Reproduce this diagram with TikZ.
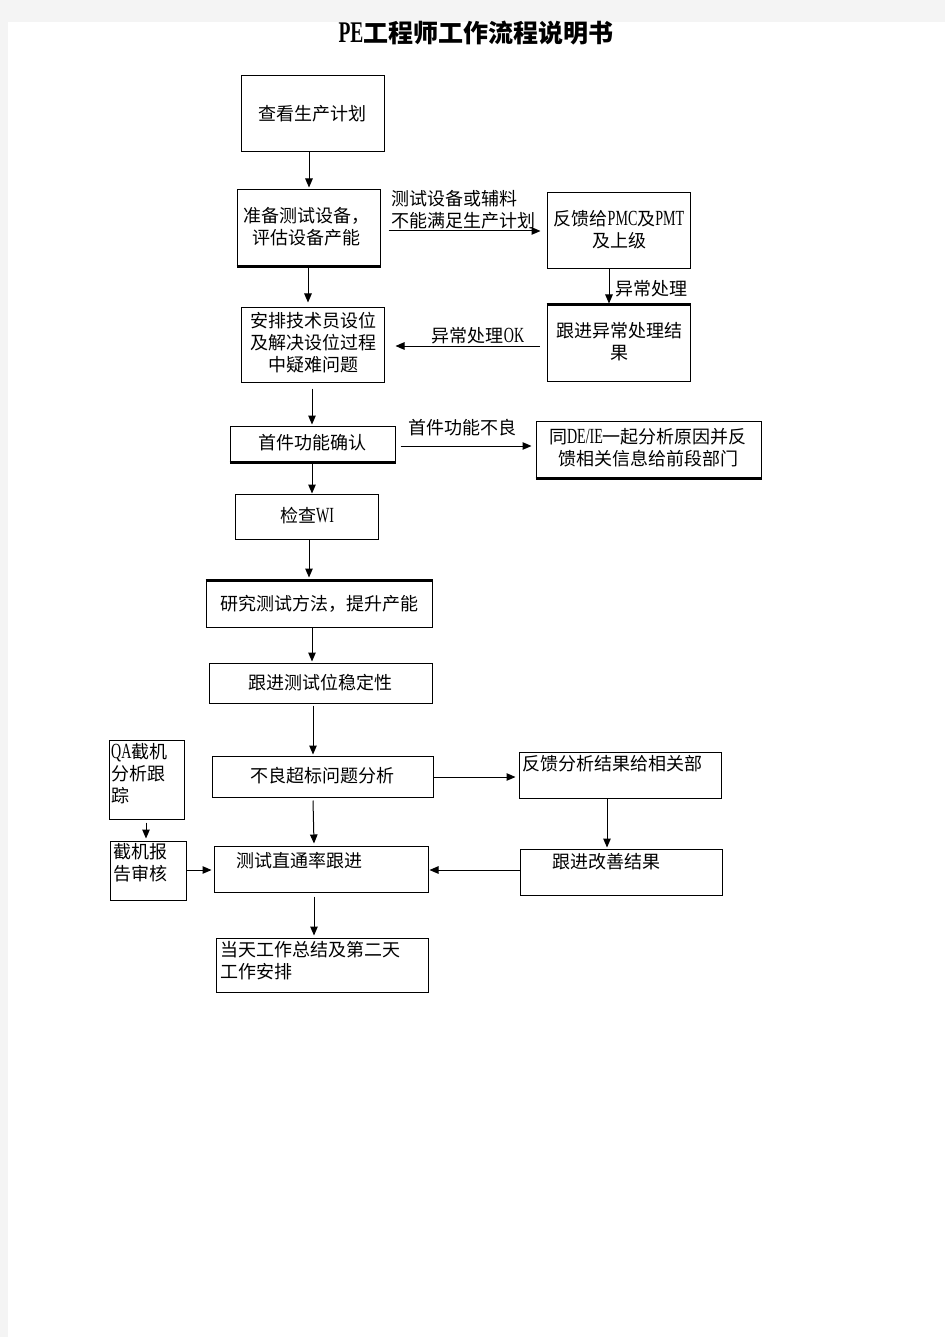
\documentclass[tikz,border=0pt]{standalone}
\usepackage{fontspec}
\setmainfont{Noto Sans CJK SC}
\newfontfamily\lat[FakeStretch=0.65,Scale=1.2]{Liberation Serif}
\usetikzlibrary{arrows.meta,calc}
\definecolor{pagegray}{HTML}{F4F4F4}
\begin{document}
\begin{tikzpicture}[x=1pt,y=-1pt,
  box/.style={draw=black,line width=1pt,inner sep=0pt},
  txt/.style={inner sep=0pt,align=center,font=\fontsize{18}{22}\selectfont},
  ltxt/.style={inner sep=0pt,align=left,anchor=west,font=\fontsize{18}{22}\selectfont},
  arr/.style={draw=black,line width=1pt,-{Triangle[length=9pt,width=7.5pt]}},
  heavy/.style={line width=2.2pt}]
% page background
\fill[pagegray] (0,0) rectangle (945,1337);
\fill[white] (8,22) rectangle (945,1337);
\useasboundingbox (0,0) rectangle (945,1337);
% title
\node[inner sep=0pt,font=\fontsize{25}{28}\selectfont\bfseries] (title) at (476,33) {{\lat PE}工程师工作流程说明书};
% boxes
\node[box,minimum width=143,minimum height=76] (b1) at (312.5,114) {};
\node[box,minimum width=143,minimum height=76] (b2) at (308.5,228) {};
\node[box,minimum width=143,minimum height=76] (b3) at (618.5,231) {};
\node[box,minimum width=143,minimum height=76] (b4) at (618.5,343) {};
\node[box,minimum width=143,minimum height=75] (b5) at (312.5,344.5) {};
\node[box,minimum width=165,minimum height=36] (b6) at (312.5,444) {};
\node[box,minimum width=225,minimum height=57] (b7) at (648.5,449.5) {};
\node[box,minimum width=143,minimum height=45] (b8) at (306.5,516.5) {};
\node[box,minimum width=226,minimum height=46] (b9) at (319,604) {};
\node[box,minimum width=223,minimum height=40] (b10) at (320.5,683) {};
\node[box,minimum width=221,minimum height=41] (b11) at (322.5,776.5) {};
\node[box,minimum width=202,minimum height=46] (b12) at (620,775) {};
\node[box,minimum width=202,minimum height=46] (b13) at (621,872) {};
\node[box,minimum width=214,minimum height=46] (b14) at (321,869) {};
\node[box,minimum width=75,minimum height=79] (bqa) at (146.5,779.5) {};
\node[box,minimum width=76,minimum height=59] (bjr) at (148,870.5) {};
\node[box,minimum width=212,minimum height=54] (b15) at (322,965) {};
% heavier edges
\draw[heavy] (b2.south west) -- (b2.south east);
\draw[heavy] (b4.north west) -- (b4.north east);
\draw[heavy] (b6.south west) -- (b6.south east);
\draw[heavy] (b7.south west) -- (b7.south east);
\draw[heavy] (b9.north west) -- (b9.north east);
% texts
\node[txt] (t1) at (312,114) {查看生产计划};
\node[txt] (t2) at (306,227) {准备测试设备，\\评估设备产能};
\node[txt] (t4) at (619,230) {反馈给{\lat PMC}及{\lat PMT}\\及上级};
\node[txt] (t6) at (619,342) {跟进异常处理结\\果};
\node[txt] (t8) at (313,343) {安排技术员设位\\及解决设位过程\\中疑难问题};
\node[txt] (t9) at (312,443) {首件功能确认};
\node[txt] (t11) at (648,448) {同{\lat DE/IE}一起分析原因并反\\馈相关信息给前段部门};
\node[txt] (t12) at (307,516) {检查{\lat WI}};
\node[txt] (t13) at (319,604) {研究测试方法，提升产能};
\node[txt] (t14) at (320,683) {跟进测试位稳定性};
\node[txt] (t15) at (322,776) {不良超标问题分析};
\node[ltxt] (t16) at (522,764) {反馈分析结果给相关部};
\node[ltxt] (t17) at (552,862) {跟进改善结果};
\node[ltxt] (t18) at (236,861) {测试直通率跟进};
\node[ltxt] (tqa) at (111,774) {{\lat QA}截机\\分析跟\\踪};
\node[ltxt] (tjr) at (113,863) {截机报\\告审核};
\node[ltxt] (t19) at (220,960.5) {当天工作总结及第二天\\工作安排};
% edge labels
\node[ltxt] (l1) at (391,210) {测试设备或辅料\\不能满足生产计划};
\node[ltxt] (l2) at (615,289) {异常处理};
\node[txt] (l3) at (478,336) {异常处理{\lat OK}};
\node[txt] (l4) at (462,428) {首件功能不良};
% arrows
\draw[arr] ($(b1.south)+(-3.5,0)$) -- ($(b2.north)+(0.5,-2)$);
\draw[arr] ($(b2.east)+(8,3)$) -- ($(b3.west)+(-6,0)$);
\draw[arr] ($(b3.south)+(-9.5,0)$) -- ($(b4.north)+(-9.5,-1)$);
\draw[arr] ($(b4.west)+(-7,3)$) -- ($(b5.east)+(11,1.5)$);
\draw[arr] ($(b2.south)+(-0.5,2)$) -- ($(b5.north)+(-4.5,-4)$);
\draw[arr] ($(b5.south)+(-0.5,6)$) -- ($(b6.north)+(-0.5,-1)$);
\draw[arr] ($(b6.east)+(5,2)$) -- ($(b7.west)+(-4,-3.5)$);
\draw[arr] ($(b6.south)+(-0.5,0)$) -- ($(b8.north)+(5.5,0)$);
\draw[arr] ($(b8.south)+(2.5,0)$) -- ($(b9.north)+(-10,-3)$);
\draw[arr] ($(b9.south)+(-7,0)$) -- ($(b10.north)+(-8.5,-1)$);
\draw[arr] ($(b10.south)+(-7.5,2)$) -- ($(b11.north)+(-9.5,-1)$);
\draw[arr] ($(b11.east)+(0,0.5)$) -- ($(b12.west)+(-3,2)$);
\draw[arr] ($(b12.south)+(-13,0)$) -- ($(b13.north)+(-14,-1)$);
\draw[arr] ($(b13.west)+(0,-2)$) -- ($(b14.east)+(1,1)$);
\draw[arr] ($(b11.south)+(-9.5,3)$) -- ($(b14.north)+(-7,-2)$);
\draw[arr] ($(bqa.south)+(-0.5,3)$) -- ($(bjr.north)+(-2,-2)$);
\draw[arr] ($(bjr.east)+(0,-0.5)$) -- ($(b14.west)+(-2,1)$);
\draw[arr] ($(b14.south)+(-7,4)$) -- ($(b15.north)+(-8,-2)$);
\end{tikzpicture}
\end{document}
